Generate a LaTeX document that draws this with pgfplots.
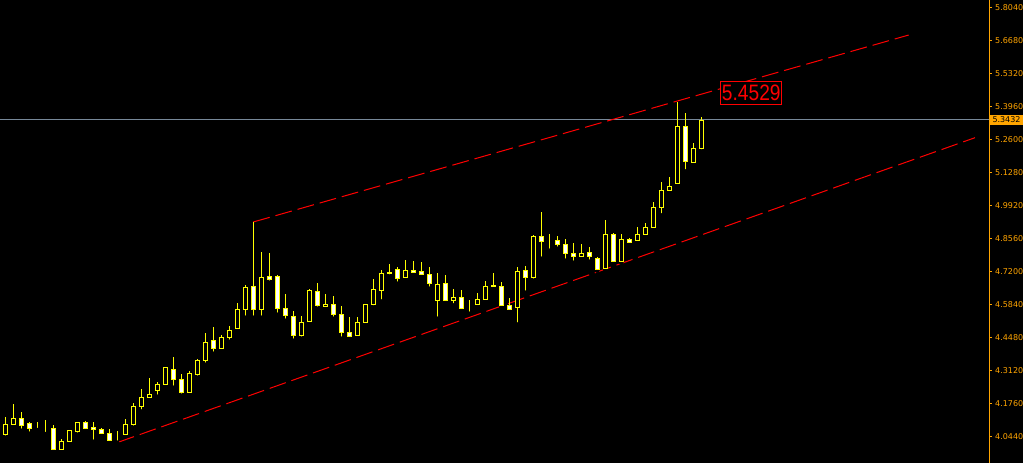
\documentclass[border=0pt]{standalone}
\usepackage{fontspec}
\setmainfont{DejaVu Sans}
\newfontfamily\labfont{Liberation Sans}
\usepackage{graphicx}
\usepackage{pgfplots}
\usepackage{pgfplotstable}
\pgfplotsset{compat=1.18}
\definecolor{mtorange}{RGB}{255,165,0}
\definecolor{mtgray}{RGB}{119,136,153}
\definecolor{mtyellow}{RGB}{255,255,0}
\definecolor{mtred}{RGB}{255,0,0}
\pgfplotstableread{
i O H L C
1 4.0468 4.1181 4.0328 4.0880
2 4.0880 4.1717 4.0822 4.1128
3 4.1128 4.1387 4.0616 4.0822
4 4.0905 4.0975 4.0493 4.0699
5 4.0715 4.0975 4.0645 4.0715
6 4.0715 4.1057 4.0480 4.0715
7 4.0715 4.0839 3.9792 3.9833
8 3.9833 4.0262 3.9792 4.0179
9 4.0179 4.0645 4.0138 4.0604
10 4.0592 4.0963 4.0451 4.0963
11 4.0963 4.1016 4.0645 4.0699
12 4.0728 4.0975 4.0163 4.0658
13 4.0674 4.0728 4.0427 4.0493
14 4.0509 4.0686 4.0151 4.0221
15 4.0468 4.0604 4.0122 4.0468
16 4.0468 4.1086 4.0398 4.0880
17 4.0880 4.1746 4.0740 4.1622
18 4.1622 4.2335 4.1408 4.1993
19 4.1993 4.2789 4.1935 4.2117
20 4.2265 4.2636 4.2018 4.2533
21 4.2521 4.3242 4.2471 4.3201
22 4.3147 4.3654 4.2389 4.2719
23 4.2735 4.2954 4.2059 4.2183
24 4.2183 4.3077 4.2100 4.2982
25 4.2925 4.3584 4.2801 4.3518
26 4.3502 4.4644 4.3337 4.4260
27 4.4343 4.4891 4.3790 4.3996
28 4.3996 4.4561 4.3955 4.4466
29 4.4466 4.4932 4.4285 4.4767
30 4.4821 4.5880 4.4767 4.5620
31 4.5620 4.6622 4.5274 4.6527
32 4.6569 4.9207 4.5274 4.5604
33 4.5604 4.7982 4.5274 4.6940
34 4.6952 4.7941 4.6717 4.6869
35 4.6981 4.7034 4.5398 4.5645
36 4.5662 4.6251 4.5150 4.5357
37 4.5332 4.5550 4.4326 4.4532
38 4.4532 4.5344 4.4409 4.5085
39 4.5126 4.6457 4.5027 4.6404
40 4.6362 4.6705 4.5645 4.5769
41 4.5744 4.6251 4.5744 4.5827
42 4.5827 4.6169 4.5233 4.5414
43 4.5414 4.5744 4.4409 4.4672
44 4.4672 4.5303 4.4491 4.4508
45 4.4549 4.5303 4.4491 4.5085
46 4.5068 4.5827 4.5027 4.5827
47 4.5827 4.6869 4.5703 4.6445
48 4.6404 4.7228 4.5942 4.7104
49 4.7146 4.7480 4.6973 4.7076
50 4.7269 4.7352 4.6676 4.6898
51 4.6940 4.7653 4.6882 4.7228
52 4.7228 4.7611 4.7104 4.7146
53 4.7187 4.7558 4.7063 4.7063
54 4.7063 4.7352 4.6470 4.6692
55 4.5991 4.7104 4.5233 4.6651
56 4.6692 4.7022 4.5921 4.5991
57 4.5975 4.6445 4.5785 4.6115
58 4.6115 4.6404 4.5604 4.5662
59 4.5703 4.6004 4.5439 4.5703
60 4.5827 4.6292 4.5785 4.6033
61 4.6033 4.6775 4.5950 4.6569
62 4.6622 4.7104 4.6486 4.6552
63 4.6569 4.6733 4.5703 4.5777
64 4.5785 4.6074 4.5579 4.5612
65 4.5703 4.7352 4.4994 4.7187
66 4.7228 4.7393 4.6305 4.6940
67 4.6923 4.8695 4.6799 4.8630
68 4.8630 4.9619 4.7706 4.8407
69 4.8423 4.8712 4.8036 4.8423
70 4.8465 4.8630 4.8118 4.8300
71 4.8300 4.8506 4.7624 4.7912
72 4.7900 4.8341 4.7541 4.7789
73 4.7789 4.8300 4.7764 4.7929
74 4.7970 4.8176 4.7583 4.7789
75 4.7723 4.7764 4.7212 4.7253
76 4.7294 4.9289 4.7253 4.8712
77 4.8712 4.8753 4.7541 4.7583
78 4.7583 4.8712 4.7541 4.8506
79 4.8506 4.8547 4.8283 4.8382
80 4.8465 4.9000 4.8366 4.8712
81 4.8695 4.9165 4.8613 4.9000
82 4.9000 5.0031 4.8943 4.9825
83 4.9808 5.0855 4.9495 5.0526
84 5.0526 5.1062 5.0484 5.0690
85 5.0798 5.4178 5.0757 5.3164
86 5.3164 5.3700 5.1309 5.1705
87 5.1680 5.2475 5.1597 5.2257
88 5.2240 5.3535 5.2133 5.3411
}\candles

\begin{document}
\begin{tikzpicture}
\fill[black] (0,0) rectangle (1023pt,463pt);
\pgfplotsset{base/.style={scale only axis, width=989pt, height=463pt,
  xmin=0.3375, xmax=123.9625, ymin=3.9285, ymax=5.8370}}
\begin{axis}[base, clip mode=individual,
  axis x line=none, axis y line=right,
  y axis line style={draw=mtorange, line width=1pt, -},
  ytick={5.804,5.668,5.532,5.396,5.260,5.124,4.988,4.852,4.716,4.580,4.444,4.308,4.172,4.036},
  yticklabels={5.8040,5.6680,5.5320,5.3960,5.2600,5.1280,4.9920,4.8560,4.7200,4.5840,4.4480,4.3120,4.1760,4.0440},
  tick align=outside, major tick length=3pt,
  tick style={draw=mtorange, line width=1pt},
  yticklabel style={font=\fontsize{8}{9}\selectfont, text=mtorange, anchor=west, inner sep=0pt, xshift=3pt}]
% current price line
\addplot[mtgray, line width=1pt, forget plot] coordinates {(0.3375,5.3432) (123.9625,5.3432)};
% trend lines
\addplot[mtred, line width=1pt, dash pattern=on 17pt off 6pt, forget plot] coordinates {(32.0,4.9219) (113.93,5.6927)};
\addplot[mtred, line width=1pt, dash pattern=on 17pt off 6pt, forget plot] coordinates {(15.09,4.0138) (122.21,5.2694)};
% wicks
\addplot[only marks, mark=none, forget plot,
  error bars/.cd, y dir=plus, y explicit, error mark=none,
  error bar style={draw=mtyellow, line width=1pt}]
  table[x=i, y=L, y error expr=\thisrow{H}-\thisrow{L}] {\candles};
\end{axis}
\begin{axis}[base, hide axis, ybar stacked, bar width=4pt]
\addplot[draw=none, fill=none] table[x=i, y expr={min(\thisrow{O},\thisrow{C})}] {\candles};
\addplot[fill=black, draw=mtyellow, line width=1pt] table[x=i, y expr={max(\thisrow{C}-\thisrow{O},0)}] {\candles};
\addplot[fill=white, draw=mtyellow, line width=1pt] table[x=i, y expr={max(\thisrow{O}-\thisrow{C},0)}] {\candles};
\end{axis}
\begin{axis}[base, hide axis, clip=false]
\node[draw=mtred, fill=black, line width=1pt, inner sep=0pt, minimum width=61.3pt, minimum height=22.3pt, text=mtred]
  at (axis cs:94.25,5.4536) {\scalebox{0.86}[1]{\labfont\fontsize{22.3}{24}\selectfont 5.4529}};
\node[fill=mtorange, text=black, inner sep=0pt, minimum width=33pt, minimum height=10pt, font=\fontsize{8}{9}\selectfont]
  at (axis cs:126.15,5.3432) {5.3432};
\end{axis}
\pgfresetboundingbox
\path (0,0) rectangle (1023pt,463pt);
\end{tikzpicture}
\end{document}
